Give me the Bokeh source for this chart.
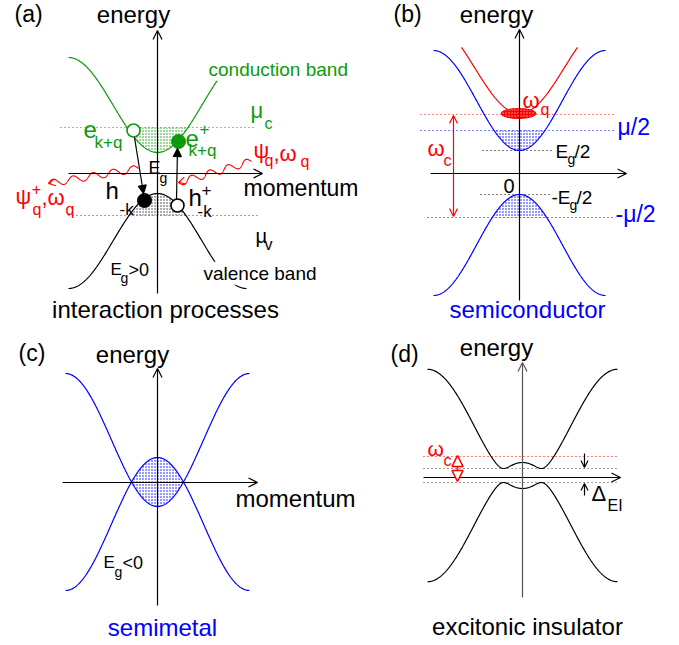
import numpy as np
from bokeh.plotting import figure
from bokeh.models import Arrow, OpenHead, NormalHead, VeeHead, Range1d
from bokeh.core.properties import value
from bokeh.embed import file_html
from bokeh.resources import INLINE

# ---------------- values (schematic, canvas px) ----------------
panel_tags = ["(a)", "(b)", "(c)", "(d)"]
panel_titles = ["interaction processes", "semiconductor", "semimetal", "excitonic insulator"]
axis_title_y = "energy"
axis_title_x = "momentum"

# cosine bands: [x_center, zone half width, y at band extremum (k=0), y at zone edge]
a_conduction = [157, 89, 152, 57]
a_conduction_visible = [68, 221]
a_valence = [157, 89, 193, 288]
b_conduction = [519, 86, 150, 50]
b_valence = [519, 86, 194, 295]
b_pair = [519, 90, 113, 21]          # red two-particle band
b_pair_kmax = 58
c_conduction = [157, 92, 506, 373]
c_valence = [157, 92, 457, 590]
# excitonic insulator: E = sqrt(eps^2 + gap^2), eps = m - A cos(pi k / L)
d_band = dict(x0=522, L=95, mid=475, m=47.5, A=58.5, gap=7)

# levels (y) of the chemical potentials / gaps
a_mu_c, a_mu_v = 127, 215
b_levels = dict(omega_q=114, mu2=130, eg2=150, meg2=194, mmu2=217)
d_levels = dict(omega_c=456, up=468, low=482)

W, H = 679, 645
FONT = "Liberation Sans"
GREEN = "#0b9b0b"
BLUE = "#0000ff"
RED = "#ff0000"

p = figure(width=W, height=H, x_range=Range1d(0, W), y_range=Range1d(H, 0),
           output_backend="svg", toolbar_location=None, min_border=0)
p.axis.visible = False
p.grid.visible = False
p.outline_line_color = None
p.background_fill_color = "white"


def cos_band(par, xs):
    x0, L, y0, yedge = par
    mid = (y0 + yedge) / 2.0
    amp = (y0 - yedge) / 2.0
    return mid + amp * np.cos(np.pi * (xs - x0) / L)


def txt(x, y, s, size, color="black", align="left", baseline="alphabetic", bg=None):
    kw = {}
    if bg is not None:
        kw = dict(background_fill_color=bg, padding=1)
    dy = -0.33 * size if baseline == "alphabetic" else 0
    p.text(x=[x], y=[y + dy], text=[s], text_font=value(FONT), text_font_size=f"{size}px",
           text_color=color, text_align=align, text_baseline=baseline, **kw)


def arrow(x0, y0, x1, y1, color="black", lw=1.2, size=9, kind="open", both=False, fill=None):
    def head():
        if kind == "open":
            return OpenHead(size=size, line_color=color, line_width=lw)
        if kind == "vee":
            return VeeHead(size=size, line_color=color, line_width=lw, fill_color=color)
        return NormalHead(size=size, line_color=color, line_width=lw,
                          fill_color=fill if fill else color)
    p.add_layout(Arrow(x_start=x0, y_start=y0, x_end=x1, y_end=y1, line_color=color,
                       line_width=lw, end=head(), start=head() if both else None))


def hline(y, x0, x1, color, dash="1 3", lw=1.2):
    p.line([x0, x1], [y, y], line_color=color, line_dash=dash, line_width=lw)


def squiggle(x0, y0, x1, y1, periods, amp, color=RED):
    t = np.linspace(0, 1, 400)
    dx, dy = x1 - x0, y1 - y0
    Ln = np.hypot(dx, dy)
    nx, ny = -dy / Ln, dx / Ln
    off = amp * np.sin(2 * np.pi * periods * t)
    p.line(x0 + dx * t + nx * off, y0 + dy * t + ny * off, line_color=color, line_width=1.1)
    ux, uy = dx / Ln, dy / Ln
    arrow(x1 - ux * 3, y1 - uy * 3, x1, y1, color=color, lw=1.1, size=7, kind="open")


def stipple(xs, y1, y2, color):
    p.varea(x=xs, y1=y1, y2=y2, fill_alpha=0.0, hatch_pattern="dot", hatch_color=color,
            hatch_scale=3, hatch_weight=0.7)


# ======================= panel (a) =======================
xs = np.linspace(68, 246, 400)
yc = cos_band(a_conduction, xs)
yv = cos_band(a_valence, xs)
stipple(xs, yc, np.minimum(yc, a_mu_c), GREEN)
stipple(xs, yv, np.maximum(yv, a_mu_v), "#333333")
hline(a_mu_c, 60, 253, GREEN)
hline(a_mu_v, 68, 258, "#444444")
xcv = np.linspace(a_conduction_visible[0], a_conduction_visible[1], 300)
p.line(xcv, cos_band(a_conduction, xcv), line_color=GREEN, line_width=1.2)
p.line(xs, yv, line_color="black", line_width=1.2)
arrow(68, 173, 262, 173, size=9)
arrow(157, 293, 157, 30, size=9)
squiggle(251, 161, 178, 182, 4.0, 3.5)
squiggle(138, 168, 48, 183, 4.5, 3.5)
arrow(134, 137, 143, 193, kind="normal", size=8)
arrow(176, 199, 177, 148, kind="normal", size=8)
# particles
p.scatter([133], [130], size=13, marker="circle", fill_color="white", line_color=GREEN, line_width=1.6)
p.scatter([178], [141], size=14, marker="circle", fill_color=GREEN, line_color=GREEN)
p.scatter([144], [200], size=14, marker="circle", fill_color="black", line_color="black")
p.scatter([177], [205], size=13, marker="circle", fill_color="white", line_color="black", line_width=1.6)

txt(14, 21, panel_tags[0], 23)
txt(133, 22, axis_title_y, 24, align="center")
txt(243, 195, axis_title_x, 23)
txt(207, 75, "conduction band", 19, color=GREEN, bg="white")
txt(202, 279, "valence band", 19, bg="white")
txt(250, 117, "μ", 22, color=GREEN)
txt(264, 128, "c", 16, color=GREEN)
txt(255, 242, "μ", 20)
txt(264, 249, "v", 16)
txt(83, 137, "e", 24, color=GREEN)
txt(94, 148, "k+q", 17, color=GREEN)
txt(185, 146, "e", 24, color=GREEN)
txt(204, 128, "+", 17, color=GREEN, align="center", baseline="middle")
txt(188, 156, "k+q", 17, color=GREEN)
txt(105, 198, "h", 24)
txt(119, 215, "-k", 17)
txt(188, 205, "h", 24)
txt(206, 189, "+", 17, align="center", baseline="middle")
txt(197, 217, "-k", 17)
txt(147, 173, "E", 18, bg="white")
txt(159, 182, "g", 14)
txt(110, 275, "E", 17)
txt(120, 282, "g", 14)
txt(128, 275, ">0", 18)
# psi labels
txt(253, 157, "ψ", 22, color=RED)
txt(264, 165, "q", 16, color=RED)
txt(273, 160, ",ω", 22, color=RED)
txt(300, 166, "q", 16, color=RED)
txt(15, 203, "ψ", 22, color=RED)
txt(36, 188, "+", 16, color=RED, align="center", baseline="middle")
txt(32, 214, "q", 16, color=RED)
txt(41, 204, ",ω", 22, color=RED)
txt(65, 214, "q", 16, color=RED)
txt(165, 317, panel_titles[0], 24, align="center")

# ======================= panel (b) =======================
xs = np.linspace(433, 605, 400)
ybc = cos_band(b_conduction, xs)
ybv = cos_band(b_valence, xs)
stipple(xs, ybc, np.minimum(ybc, b_levels["mu2"]), BLUE)
stipple(xs, ybv, np.maximum(ybv, b_levels["mmu2"]), BLUE)
hline(b_levels["omega_q"], 420, 613, RED)
hline(b_levels["mu2"], 420, 613, BLUE)
hline(b_levels["eg2"], 482, 553, "black")
hline(b_levels["meg2"], 480, 551, "black")
hline(b_levels["mmu2"], 427, 613, BLUE)
p.line(xs, ybc, line_color=BLUE, line_width=1.2)
p.line(xs, ybv, line_color=BLUE, line_width=1.2)
xr = np.linspace(b_pair[0] - b_pair_kmax, b_pair[0] + b_pair_kmax, 300)
p.line(xr, cos_band(b_pair, xr), line_color=RED, line_width=1.2)
p.ellipse(x=[518], y=[113], width=35, height=10, fill_color=RED, line_color=RED,
          hatch_pattern="dot", hatch_color="#ffb0b0", hatch_scale=3)
arrow(430, 173, 626, 173, size=9)
arrow(519, 300, 519, 29, size=9)
arrow(453, 165, 453, 115, color=RED, size=8, lw=1.2)
arrow(453, 165, 453, 216, color=RED, size=8, lw=1.2)

txt(393, 21, panel_tags[1], 23)
txt(496, 22, axis_title_y, 24, align="center")
txt(522, 107, "ω", 22, color=RED)
txt(540, 114, "q", 16, color=RED)
txt(427, 155, "ω", 22, color=RED)
txt(443, 165, "c", 16, color=RED)
txt(503, 192, "0", 20)
txt(555, 157, "E", 19)
txt(567, 163, "g", 14)
txt(574, 157, "/2", 19)
txt(551, 203, "-E", 19)
txt(569, 209, "g", 14)
txt(576, 203, "/2", 19)
txt(617, 134, "μ/2", 23, color=BLUE)
txt(615, 221, "-μ/2", 23, color=BLUE)
txt(527, 317, panel_titles[1], 24, color=BLUE, align="center")

# ======================= panel (c) =======================
xs = np.linspace(65, 249, 400)
ycc = cos_band(c_conduction, xs)
ycv = cos_band(c_valence, xs)
stipple(xs, ycv, np.where(ycv < ycc, ycc, ycv), BLUE)
p.line(xs, ycc, line_color=BLUE, line_width=1.2)
p.line(xs, ycv, line_color=BLUE, line_width=1.2)
arrow(62, 482, 257, 482, size=9)
arrow(157, 605, 157, 368, size=9)
txt(18, 360, panel_tags[2], 23)
txt(132, 362, axis_title_y, 24, align="center")
txt(235, 506, axis_title_x, 24)
txt(103, 568, "E", 17)
txt(114, 576, "g", 14)
txt(122, 568, "<0", 18)
txt(162, 635, panel_titles[2], 24, color=BLUE, align="center")

# ======================= panel (d) =======================
d = d_band
xs = np.linspace(d["x0"] - d["L"], d["x0"] + d["L"], 400)
eps = d["m"] - d["A"] * np.cos(np.pi * (xs - d["x0"]) / d["L"])
E = np.sqrt(eps ** 2 + d["gap"] ** 2)
hline(d_levels["omega_c"], 423, 617, RED)
hline(d_levels["up"], 423, 617, "#444444")
hline(d_levels["low"], 423, 617, "#444444")
p.line(xs, d["mid"] - E, line_color="black", line_width=1.2)
p.line(xs, d["mid"] + E, line_color="black", line_width=1.2)
arrow(423, 477, 620, 477, size=9)
arrow(522, 597, 522, 362, color="#555555", size=9)
arrow(457, 468, 457, 455, color=RED, kind="normal", size=11, fill="white", lw=1.6)
arrow(457, 468, 457, 481, color=RED, kind="normal", size=11, fill="white", lw=1.6)
arrow(584, 453, 584, 467, size=7)
arrow(584, 495, 584, 483, size=7)
txt(390, 361, panel_tags[3], 23)
txt(496, 355, axis_title_y, 24, align="center")
txt(427, 455, "ω", 21, color=RED)
txt(443, 465, "c", 16, color=RED)
txt(591, 500, "Δ", 22)
txt(607, 510, "EI", 16)
txt(527, 634, panel_titles[3], 24, align="center")

open("out.html", "w").write(file_html(p, INLINE))
